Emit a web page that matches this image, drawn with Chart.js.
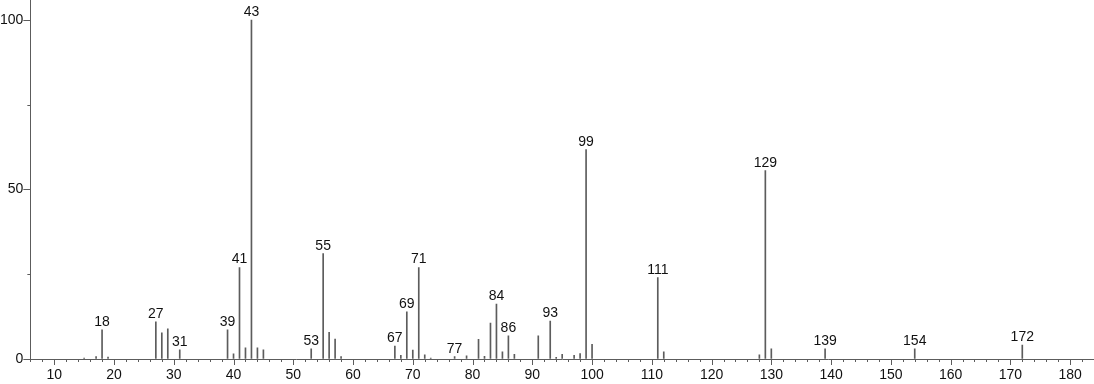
<!DOCTYPE html>
<html>
<head>
<meta charset="utf-8">
<title>Mass spectrum</title>
<script src="https://cdn.jsdelivr.net/npm/chart.js@4.4.0/dist/chart.umd.min.js"></script>
<style>
  html, body { margin: 0; padding: 0; background: #fff; overflow: hidden; }
  #wrap { width: 1094px; height: 384px; }
</style>
</head>
<body>
<div id="wrap"><canvas id="spectrum"></canvas></div>
<script>
// peaks (m/z and relative intensity)
const mz = [15, 17, 18, 19, 27, 28, 29, 31, 39, 40, 41, 42, 43, 44, 45,
  53, 55, 56, 57, 58, 67, 68, 69, 70, 71, 72, 73, 77, 79, 81, 82, 83, 84,
  85, 86, 87, 91, 93, 94, 95, 97, 98, 99, 100, 111, 112, 128, 129, 130,
  139, 154, 172];
const intensity = [0.3, 0.7, 8.6, 0.6, 11.0, 7.7, 8.9, 2.7, 8.6, 1.5, 27.0,
  3.3, 100, 3.3, 2.7, 3.0, 31.1, 7.9, 5.9, 0.7, 3.8, 1.1, 13.9, 2.6, 27.0,
  1.2, 0.3, 0.7, 0.9, 5.8, 0.8, 10.6, 16.2, 2.1, 6.8, 1.4, 6.8, 11.2, 0.5,
  1.4, 1.1, 1.6, 61.8, 4.3, 24.0, 2.1, 1.2, 55.6, 3.0, 3.0, 3.0, 4.1];
const labelledPeaks = [18, 27, 31, 39, 41, 43, 53, 55, 67, 69, 71, 77, 84,
  86, 93, 99, 111, 129, 139, 154, 172];

const xTickLabels = [10, 20, 30, 40, 50, 60, 70, 80, 90, 100, 110, 120, 130,
  140, 150, 160, 170, 180];
const yTickLabels = [0, 50, 100];
const xMinorStep = 2;
const yMinorStep = 25;

const xLimits = [6, 184];
const yLimits = [0, 105.8];

const lineColor = "#5c5c5c";
const textColor = "#111";
const fontFamily = "'Liberation Sans', Arial, Helvetica, sans-serif";

// x tick marks (long at labels, short every 2) and short y ticks at 25s
const tickMarks = {
  id: "tickMarks",
  afterDraw(chart) {
    const { ctx, chartArea, scales } = chart;
    ctx.save();
    ctx.strokeStyle = lineColor;
    ctx.lineWidth = 1;
    ctx.beginPath();
    const bottom = Math.round(chartArea.bottom);
    for (let v = Math.ceil(xLimits[0] / xMinorStep) * xMinorStep; v <= xLimits[1]; v += xMinorStep) {
      const len = xTickLabels.includes(v) ? 6 : 3;
      const px = Math.round(scales.x.getPixelForValue(v)) + 0.5;
      ctx.moveTo(px, bottom);
      ctx.lineTo(px, bottom + len);
    }
    for (let v = 0; v <= yLimits[1]; v += yMinorStep) {
      if (yTickLabels.includes(v)) continue;
      const py = Math.round(scales.y.getPixelForValue(v)) + 0.5;
      ctx.moveTo(chartArea.left, py);
      ctx.lineTo(chartArea.left - 3, py);
    }
    ctx.stroke();
    ctx.restore();
  },
};

// m/z number above the main peaks
const peakLabels = {
  id: "peakLabels",
  afterDatasetsDraw(chart) {
    const { ctx, scales } = chart;
    ctx.save();
    ctx.font = `14px ${fontFamily}`;
    ctx.fillStyle = textColor;
    ctx.textAlign = "center";
    ctx.textBaseline = "alphabetic";
    labelledPeaks.forEach((m) => {
      const i = mz.indexOf(m);
      const x = scales.x.getPixelForValue(m);
      const y = scales.y.getPixelForValue(intensity[i]);
      ctx.fillText(String(m), x, y - 4);
    });
    ctx.restore();
  },
};

const xTickFont = { family: fontFamily, size: 14, lineHeight: 1 };
// tiny line height so the y axis keeps no room above the plot
const yTickFont = { family: fontFamily, size: 14, lineHeight: 0.05 };

new Chart(document.getElementById("spectrum"), {
  type: "bar",
  data: {
    datasets: [
      {
        data: mz.map((m, i) => ({ x: m, y: intensity[i] })),
        backgroundColor: lineColor,
        barThickness: 1,
        borderWidth: 0,
      },
    ],
  },
  options: {
    responsive: true,
    maintainAspectRatio: false,
    animation: false,
    layout: { padding: 0 },
    plugins: {
      legend: { display: false },
      tooltip: { enabled: false },
    },
    scales: {
      x: {
        type: "linear",
        min: xLimits[0],
        max: xLimits[1],
        offset: false,
        afterBuildTicks: (axis) => {
          axis.ticks = xTickLabels.map((v) => ({ value: v }));
        },
        ticks: {
          autoSkip: false,
          maxRotation: 0,
          padding: 1.5,
          color: textColor,
          font: xTickFont,
        },
        grid: {
          display: true,
          offset: false,
          drawOnChartArea: false,
          drawTicks: true,
          tickLength: 8,
          tickColor: "transparent",
        },
        border: { display: true, color: lineColor },
      },
      y: {
        min: yLimits[0],
        max: yLimits[1],
        afterBuildTicks: (axis) => {
          axis.ticks = yTickLabels.map((v) => ({ value: v }));
        },
        ticks: {
          padding: 0,
          color: textColor,
          font: yTickFont,
        },
        grid: {
          display: true,
          drawOnChartArea: false,
          drawTicks: true,
          tickLength: 7,
          tickColor: lineColor,
        },
        border: { display: true, color: lineColor },
      },
    },
  },
  plugins: [tickMarks, peakLabels],
});
</script>
</body>
</html>
